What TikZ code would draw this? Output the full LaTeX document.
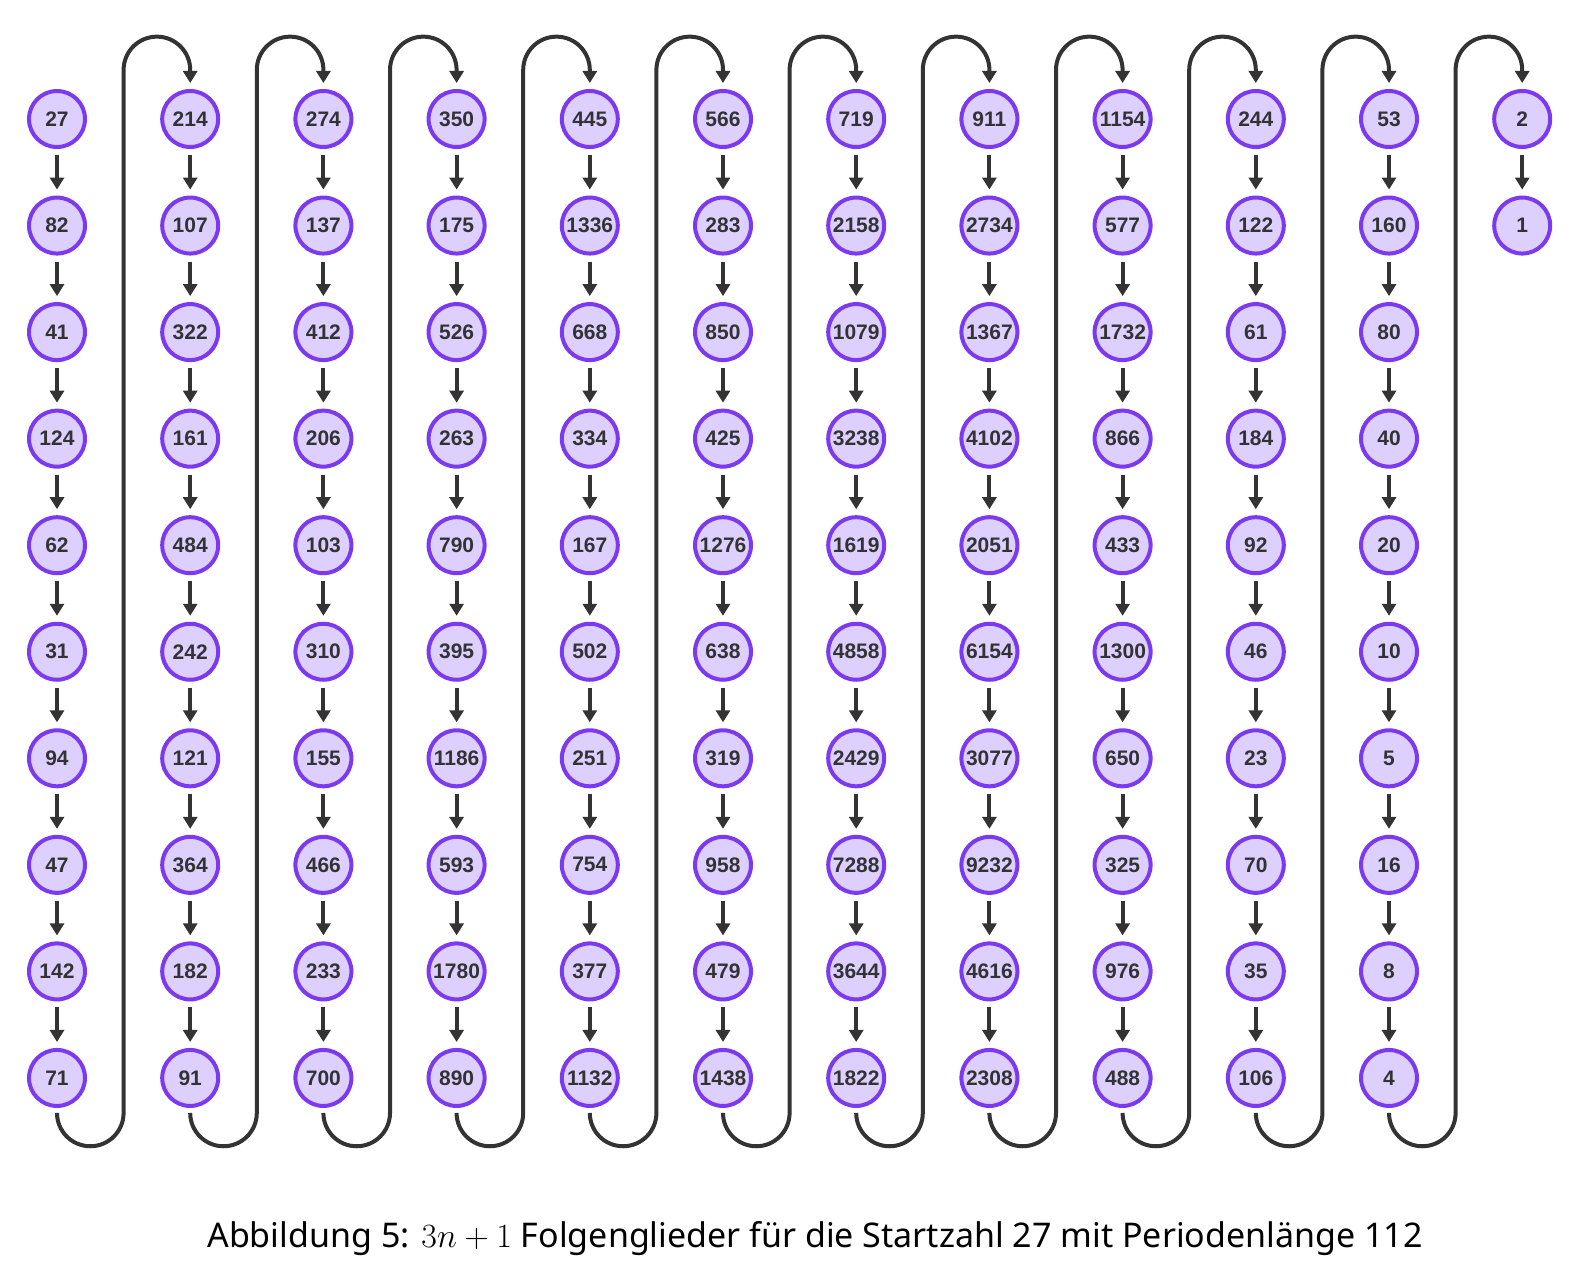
\documentclass[tikz,border=0pt]{standalone}
\usepackage{graphicx}
\usepackage[no-math]{fontspec}
\setmainfont{Noto Sans}
\newfontfamily\numfont{Liberation Sans}
\usetikzlibrary{arrows.meta}
\definecolor{nodefill}{RGB}{221,208,255}
\definecolor{nodeedge}{RGB}{124,58,240}
\definecolor{ink}{RGB}{51,51,51}
\newcommand{\bigmath}[1]{\scalebox{1.3666}{\fontsize{24.88}{30}\selectfont$#1$}}
\tikzset{
  num/.style={circle, draw=nodeedge, fill=nodefill, line width=4pt, minimum size=56pt, inner sep=0pt,
    text=ink, font=\numfont\fontsize{21}{25}\selectfont\bfseries},
  seqarrow/.style={draw=ink, line width=4pt, -{Triangle[width=14pt,length=12pt]}, shorten <=6pt, shorten >=6pt},
  wrap/.style={draw=ink, line width=4pt, -{Triangle[width=14pt,length=12pt]}},
  caption/.style={font=\fontsize{34}{40}\selectfont, text=black, anchor=base}
}
\begin{document}
\begin{tikzpicture}[x=1pt,y=-1pt]
\useasboundingbox (0,0) rectangle (1588,1284);
\foreach \v [count=\k from 0] in {27,82,41,124,62,31,94,47,142,71,214,107,322,161,484,242,121,364,182,91,274,137,412,206,103,310,155,466,233,700,350,175,526,263,790,395,1186,593,1780,890,445,1336,668,334,167,502,251,754,377,1132,566,283,850,425,1276,638,319,958,479,1438,719,2158,1079,3238,1619,4858,2429,7288,3644,1822,911,2734,1367,4102,2051,6154,3077,9232,4616,2308,1154,577,1732,866,433,1300,650,325,976,488,244,122,61,184,92,46,23,70,35,106,53,160,80,40,20,10,5,16,8,4,2,1}{
  \pgfmathtruncatemacro{\c}{int(\k/10)}
  \pgfmathtruncatemacro{\r}{mod(\k,10)}
  \node[num] (n-\c-\r) at ({57+133.2*\c},{119+106.55*\r}) {\v};
}
% arrows within columns
\foreach \c in {0,...,10}{
  \foreach \r [evaluate=\r as \p using int(\r-1)] in {1,...,9}{
    \draw[seqarrow] (n-\c-\p) -- (n-\c-\r);
  }
}
\draw[seqarrow] (n-11-0) -- (n-11-1);
% wrap-around connectors
\foreach \c [evaluate=\c as \d using int(\c+1)] in {0,...,10}{
  \draw[wrap] ([yshift=-5pt]n-\c-9.south) arc[start angle=180,end angle=360,radius=33.3pt]
    -- ++(0,-1043) arc[start angle=180,end angle=0,radius=33.3pt]
    -- ([yshift=6pt]n-\d-0.north);
}
\node[caption] (cap) at (815,1247) {Abbildung 5: \bigmath{3n+1} Folgenglieder für die Startzahl 27 mit Periodenlänge 112};
\end{tikzpicture}
\end{document}
